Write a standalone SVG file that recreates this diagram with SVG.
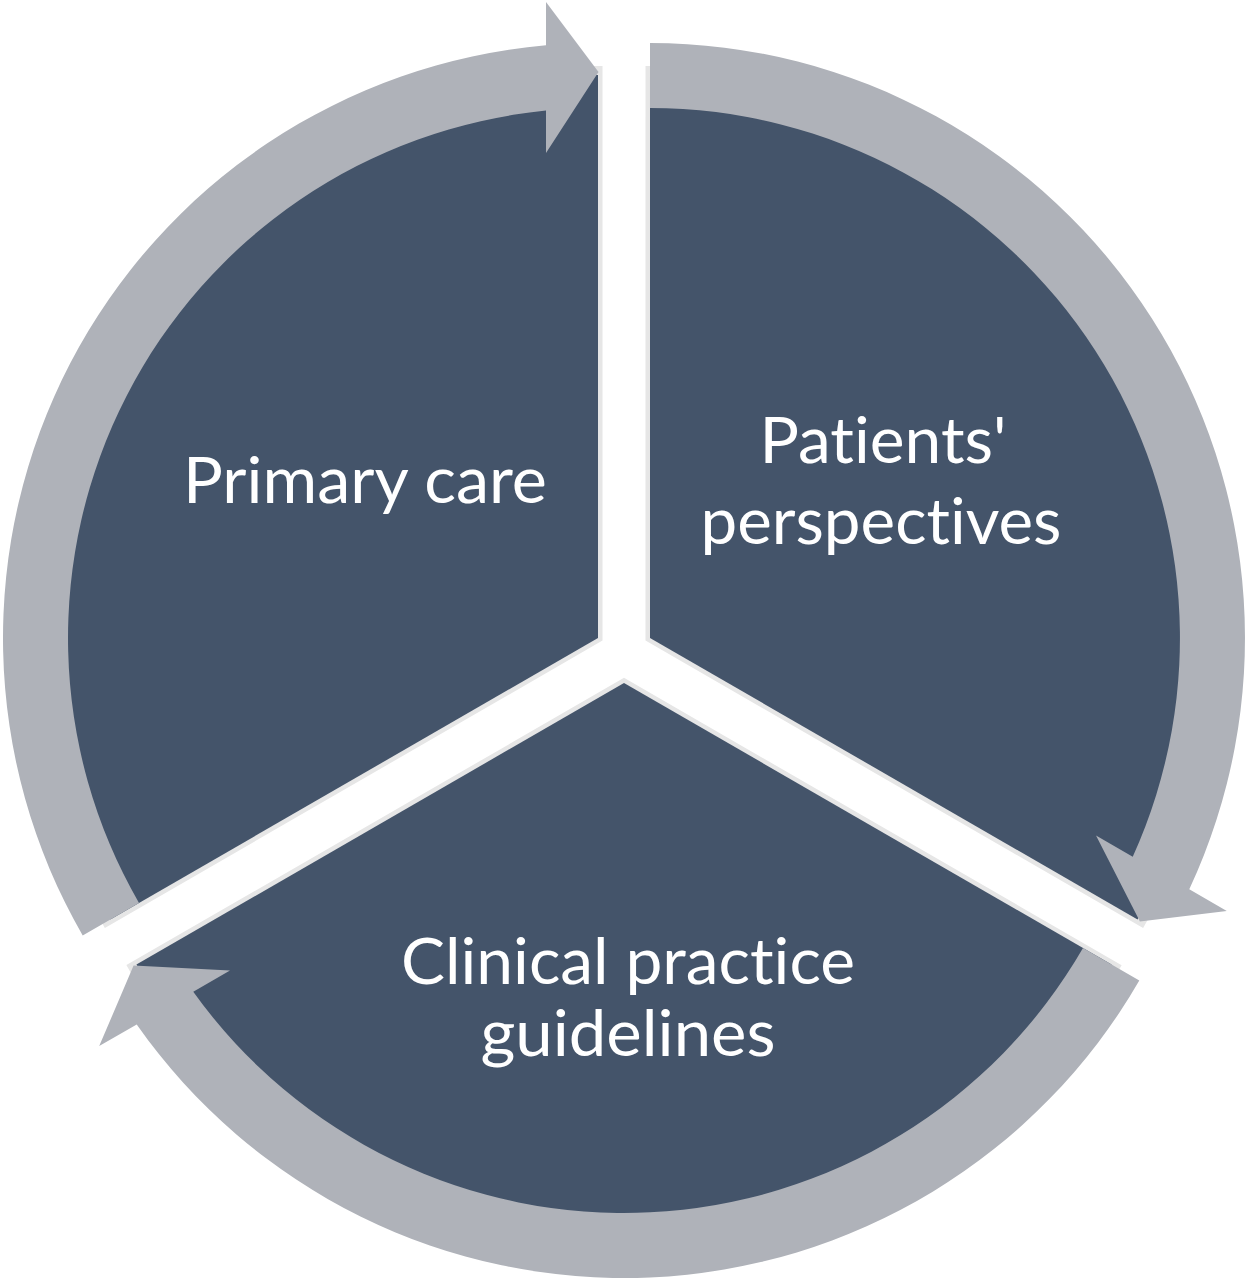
<svg xmlns="http://www.w3.org/2000/svg" xmlns:xlink="http://www.w3.org/1999/xlink" width="1247" height="1280" viewBox="0 0 1247 1280">
  <style>
    .sector { fill: #44546a; }
    .edge { fill: none; stroke: #e6e6e6; stroke-width: 9; stroke-linejoin: miter; }
    .arrow { fill: #afb2b9; }
    .label { font-family: Lato, "Open Sans", "Liberation Sans", sans-serif; font-size: 64px; fill: #ffffff; text-anchor: middle; font-variant-ligatures: none; font-feature-settings: "liga" 0, "clig" 0, "dlig" 0; }
  </style>
  <defs>
    <path id="sectorShape" d="M598 638 L598 75 A563 563 0 0 0 110.4 919.5 Z"/>
    <path id="edgeShape" d="M598 66 L598 638 L102.6 924"/>
    <path id="arrowShape" d="M82.7 935.5 A595 595 0 0 1 546 45.3 L546 2 L598.5 72 L546 153 L546 110.6 A530 530 0 0 0 139 903 Z"/>
  </defs>
  <rect x="0" y="0" width="1247" height="1280" fill="#ffffff"/>

  <g id="primary-care">
    <use xlink:href="#edgeShape" class="edge"/>
    <use xlink:href="#sectorShape" class="sector"/>
    <text class="label" x="365" y="503" textLength="364" lengthAdjust="spacingAndGlyphs">Primary care</text>
  </g>

  <g id="patients-perspectives">
    <use xlink:href="#edgeShape" class="edge" transform="rotate(120 624 653)"/>
    <use xlink:href="#sectorShape" class="sector" transform="rotate(120 624 653)"/>
    <text class="label" x="883" y="463" textLength="247" lengthAdjust="spacingAndGlyphs">Patients'</text>
    <text class="label" x="881" y="544" textLength="361" lengthAdjust="spacingAndGlyphs">perspectives</text>
  </g>

  <g id="clinical-practice-guidelines">
    <use xlink:href="#edgeShape" class="edge" transform="rotate(240 624 653)"/>
    <use xlink:href="#sectorShape" class="sector" transform="rotate(240 624 653)"/>
    <text class="label" x="628" y="984" textLength="454" lengthAdjust="spacingAndGlyphs">Clinical practice</text>
    <text class="label" x="628" y="1056" textLength="295" lengthAdjust="spacingAndGlyphs">guidelines</text>
  </g>

  <g id="connectors">
    <use xlink:href="#arrowShape" class="arrow"/>
    <use xlink:href="#arrowShape" class="arrow" transform="rotate(120 624 653)"/>
    <use xlink:href="#arrowShape" class="arrow" transform="rotate(240 624 653)"/>
  </g>
</svg>
